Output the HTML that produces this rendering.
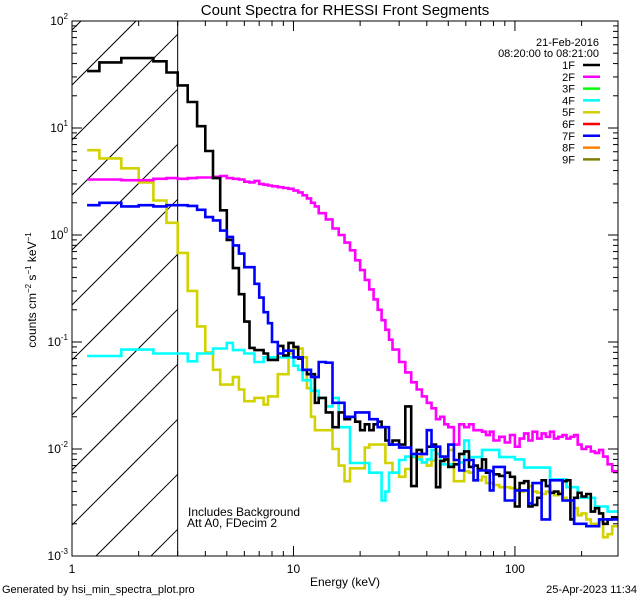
<!DOCTYPE html>
<html><head><meta charset="utf-8"><style>
html,body{margin:0;padding:0;background:#fff;width:640px;height:600px;overflow:hidden;}
svg{display:block;font-family:"Liberation Sans",sans-serif;}
</style></head><body>
<svg id="chart" width="640" height="600" viewBox="0 0 640 600" xmlns="http://www.w3.org/2000/svg" overflow="hidden">
<rect x="0" y="0" width="640" height="600" fill="#fff"/>
<text x="345" y="15" font-size="15" text-anchor="middle">Count Spectra for RHESSI Front Segments</text>
<text x="345" y="586" font-size="12" text-anchor="middle">Energy (keV)</text>
<text transform="translate(36,290) rotate(-90)" font-size="12" text-anchor="middle">counts cm<tspan dy="-5" font-size="8">−2</tspan><tspan dy="5"> s</tspan><tspan dy="-5" font-size="8">−1</tspan><tspan dy="5"> keV</tspan><tspan dy="-5" font-size="8">−1</tspan></text>
<text x="2" y="593" font-size="11">Generated by hsi_min_spectra_plot.pro</text>
<text x="637" y="593" font-size="11" text-anchor="end">25-Apr-2023 11:34</text>
<text x="188" y="516" font-size="12">Includes Background</text>
<text x="187" y="527" font-size="12">Att A0, FDecim 2</text>
<g id="hatch"></g>
<g id="series"></g>
<g id="axes"></g>
<g id="legend"></g>
</svg>
<script>
const edges=[1.17,1.33,1.67,2.0,2.33,2.67,3.0,3.33,3.67,4.0,4.33,4.67,5.0,5.33,5.67,6.0,6.33,6.67,7.0,7.33,7.67,8.0,8.5,9,9.5,10,10.5,11,11.5,12,12.5,13,14,15,16,17,18,19,20,21,22,23,24,25,26,27,28,30,32,34,36,38,40,42,44,46,48,50,53,56,59,62,65,68,71,74,77,80,85,90,95,100,105,110,115,120,126,132,138,144,150,157,164,171,178,185,192,200,210,220,230,240,250,262,275,292];
const s1F=[34,41,45,45,42,33,25,17.5,10.4,6.1,3.4,1.7,0.9,0.49,0.28,0.155,0.088,0.084,0.084,0.078,0.068,0.068,0.092,0.075,0.098,0.09,0.07,0.055,0.05,0.05,0.027,0.03,0.022,0.016,0.022,0.019,0.02,0.018,0.015,0.017,0.015,0.017,0.018,0.016,0.012,0.011,0.012,0.011,0.025,0.0045,0.0098,0.009,0.0105,0.011,0.0044,0.0077,0.008,0.0068,0.0072,0.009,0.0095,0.0068,0.007,0.0065,0.008,0.006,0.0062,0.0058,0.0056,0.006,0.0055,0.0029,0.0048,0.005,0.0029,0.003,0.0035,0.0051,0.0045,0.0039,0.004,0.0038,0.005,0.0051,0.0022,0.0035,0.0039,0.0036,0.0038,0.0026,0.0028,0.0025,0.002,0.0022,0.0023];
const s2F=[3.3,3.3,3.25,3.25,3.35,3.4,3.35,3.4,3.45,3.45,3.5,3.55,3.4,3.35,3.3,3.15,3.1,3.2,3.0,2.95,2.9,2.85,2.8,2.75,2.7,2.6,2.5,2.35,2.2,2.0,1.85,1.6,1.4,1.15,1.0,0.85,0.72,0.58,0.47,0.38,0.31,0.25,0.2,0.16,0.13,0.105,0.085,0.065,0.052,0.042,0.036,0.031,0.027,0.024,0.019,0.02,0.017,0.016,0.011,0.017,0.016,0.017,0.015,0.015,0.0145,0.0135,0.0145,0.012,0.013,0.0115,0.0135,0.0105,0.0125,0.014,0.012,0.0145,0.0125,0.014,0.013,0.0145,0.0125,0.013,0.0135,0.0125,0.013,0.0135,0.011,0.01,0.0105,0.0095,0.0092,0.0098,0.0085,0.0072,0.0062];
const s4F=[0.074,0.074,0.085,0.085,0.078,0.078,0.078,0.066,0.078,0.078,0.087,0.087,0.098,0.084,0.084,0.078,0.078,0.065,0.065,0.072,0.072,0.072,0.072,0.072,0.072,0.06,0.055,0.044,0.044,0.035,0.035,0.03,0.025,0.03,0.016,0.016,0.0074,0.0074,0.0074,0.0074,0.006,0.006,0.006,0.0033,0.004,0.006,0.006,0.0079,0.0085,0.0085,0.008,0.0075,0.008,0.0098,0.009,0.0072,0.0072,0.0072,0.0072,0.0075,0.012,0.0084,0.0084,0.0084,0.0098,0.0098,0.0098,0.0098,0.0084,0.0084,0.0084,0.008,0.008,0.0067,0.0067,0.0067,0.0067,0.0067,0.0067,0.0052,0.0052,0.0052,0.0052,0.0044,0.0044,0.0044,0.0035,0.0035,0.0035,0.0035,0.0029,0.0029,0.0029,0.0026,0.0026];
const s5F=[6.2,5.2,4.2,3.1,2.1,1.3,0.68,0.3,0.14,0.08,0.055,0.04,0.04,0.047,0.036,0.028,0.028,0.03,0.03,0.026,0.031,0.031,0.05,0.05,0.078,0.087,0.087,0.072,0.037,0.02,0.015,0.015,0.015,0.01,0.007,0.005,0.0066,0.0066,0.0066,0.0103,0.011,0.011,0.011,0.011,0.0074,0.0074,0.006,0.0055,0.0065,0.0084,0.0084,0.0075,0.007,0.0078,0.009,0.0079,0.0079,0.0098,0.005,0.005,0.0062,0.006,0.0051,0.0051,0.0055,0.0048,0.0048,0.0046,0.0044,0.0044,0.0043,0.0042,0.004,0.0041,0.0045,0.004,0.0039,0.0038,0.004,0.0039,0.0037,0.0039,0.0035,0.0033,0.0033,0.0028,0.0024,0.0025,0.0022,0.002,0.002,0.0021,0.0015,0.0016,0.0019];
const s7F=[1.9,2.0,1.85,1.9,1.85,1.9,1.9,1.87,1.72,1.47,1.37,1.1,0.96,0.8,0.67,0.5,0.5,0.35,0.26,0.19,0.15,0.1,0.078,0.083,0.083,0.072,0.072,0.055,0.055,0.047,0.047,0.065,0.064,0.027,0.027,0.02,0.02,0.022,0.022,0.022,0.019,0.019,0.016,0.016,0.016,0.011,0.011,0.0103,0.0103,0.009,0.009,0.009,0.015,0.0105,0.0105,0.0085,0.0085,0.011,0.0079,0.0063,0.0079,0.0079,0.0051,0.0063,0.0063,0.0063,0.0041,0.0068,0.0068,0.0033,0.0033,0.0041,0.0041,0.0041,0.0031,0.0048,0.0048,0.0022,0.0022,0.0051,0.0051,0.0051,0.0033,0.0033,0.0033,0.002,0.002,0.002,0.0019,0.0019,0.0019,0.0022,0.0022,0.0022,0.0022];
const legendLabels=["1F","2F","3F","4F","5F","6F","7F","8F","9F"];
const legendColors=["#000000","#ff00ff","#00ff00","#00ffff","#d2d200","#ff0000","#0000ff","#ff8000","#808000"];
const yTickExps=[-3,-2,-1,0,1,2];
const xTickLabels=[1,10,100];

const NS="http://www.w3.org/2000/svg";
const L=72,R=618,T=21,B=556;
const xMin=1, xMax=292, yMin=1e-3, yMax=1e2;
function xs(e){return L+(R-L)*Math.log10(e/xMin)/Math.log10(xMax/xMin);}
function ys(v){return B-(B-T)*Math.log10(v/yMin)/Math.log10(yMax/yMin);}
function mk(tag,attrs,parent){const el=document.createElementNS(NS,tag);for(const k in attrs)el.setAttribute(k,attrs[k]);parent.appendChild(el);return el;}

const hatch=document.getElementById('hatch');
const xHatchEnd=xs(3);
// lines y = c - (x - L), clipped analytically to [L,xHatchEnd] x [T,B]
for(let c=85-55*3;c<B+(xHatchEnd-L);c+=55){
  let xa=L, ya=c;
  if(ya>B){xa=L+(ya-B);ya=B;}
  let xb=xHatchEnd, yb=c-(xHatchEnd-L);
  if(yb<T){xb=L+(c-T);yb=T;}
  if(xa>=xb||ya<T) continue;
  const ln=mk('line',{x1:xa.toFixed(1),y1:ya.toFixed(1),x2:xb.toFixed(1),y2:yb.toFixed(1),stroke:'#000','stroke-width':1},hatch);
  
  
}
const vl=mk('line',{x1:xHatchEnd,y1:T,x2:xHatchEnd,y2:B,stroke:'#000','stroke-width':1},hatch);



const sg=document.getElementById('series');
const seriesList=[[s5F,legendColors[4],'series-5f'],[s4F,legendColors[3],'series-4f'],[s2F,legendColors[1],'series-2f'],[s1F,legendColors[0],'series-1f'],[s7F,legendColors[6],'series-7f']];
seriesList.forEach(([vals,col,nm])=>{
  let d='';
  vals.forEach((v,i)=>{
    const x0=xs(edges[i]),x1=xs(edges[i+1]),y=ys(v);
    d+=(i===0?'M':'L')+x0.toFixed(1)+','+y.toFixed(1)+'L'+x1.toFixed(1)+','+y.toFixed(1);
  });
  const p=mk('path',{d:d,fill:'none',stroke:col,'stroke-width':2.6,'stroke-linejoin':'miter'},sg);
  
  
});

const ax=document.getElementById('axes');
const frame=mk('rect',{x:L,y:T,width:R-L,height:B-T,fill:'none',stroke:'#000','stroke-width':1},ax);


for(let dec=1;dec<=100;dec*=10){
  for(let m=1;m<=9;m++){
    const e=dec*m; if(e>xMax) break;
    const x=xs(e), len=(m===1)?10:5;
    mk('line',{x1:x,y1:B,x2:x,y2:B-len,stroke:'#000'},ax);
    mk('line',{x1:x,y1:T,x2:x,y2:T+len,stroke:'#000'},ax);
  }
}
xTickLabels.forEach(v=>{
  const t=mk('text',{x:xs(v),y:B+17,'font-size':12,'text-anchor':'middle'},ax);
  t.textContent=String(v);
  
  
});
yTickExps.forEach(p=>{
  const base=Math.pow(10,p);
  for(let m=1;m<=9;m++){
    const v=base*m; if(v>yMax*1.0001) break;
    const y=ys(v), len=(m===1)?10:5;
    mk('line',{x1:L,y1:y,x2:L+len,y2:y,stroke:'#000'},ax);
    mk('line',{x1:R,y1:y,x2:R-len,y2:y,stroke:'#000'},ax);
  }
  const t=mk('text',{x:L-4,y:ys(base)+4,'font-size':12,'text-anchor':'end'},ax);
  t.innerHTML='10<tspan dy="-6" font-size="8">'+p+'</tspan>';
  
  
});

const lg=document.getElementById('legend');
const d1=mk('text',{x:599,y:46,'font-size':11,'text-anchor':'end'},lg);
d1.textContent='21-Feb-2016';


const d2=mk('text',{x:599,y:57,'font-size':11,'text-anchor':'end'},lg);
d2.textContent='08:20:00 to 08:21:00';


legendLabels.forEach((lab,i)=>{
  const y=65+i*11.8;
  const t=mk('text',{x:575,y:y+4,'font-size':11,'text-anchor':'end'},lg);
  t.textContent=lab;
  
  
  const l=mk('line',{x1:583,y1:y,x2:600,y2:y,stroke:legendColors[i],'stroke-width':2.5},lg);
  
  
});
</script>
</body></html>
